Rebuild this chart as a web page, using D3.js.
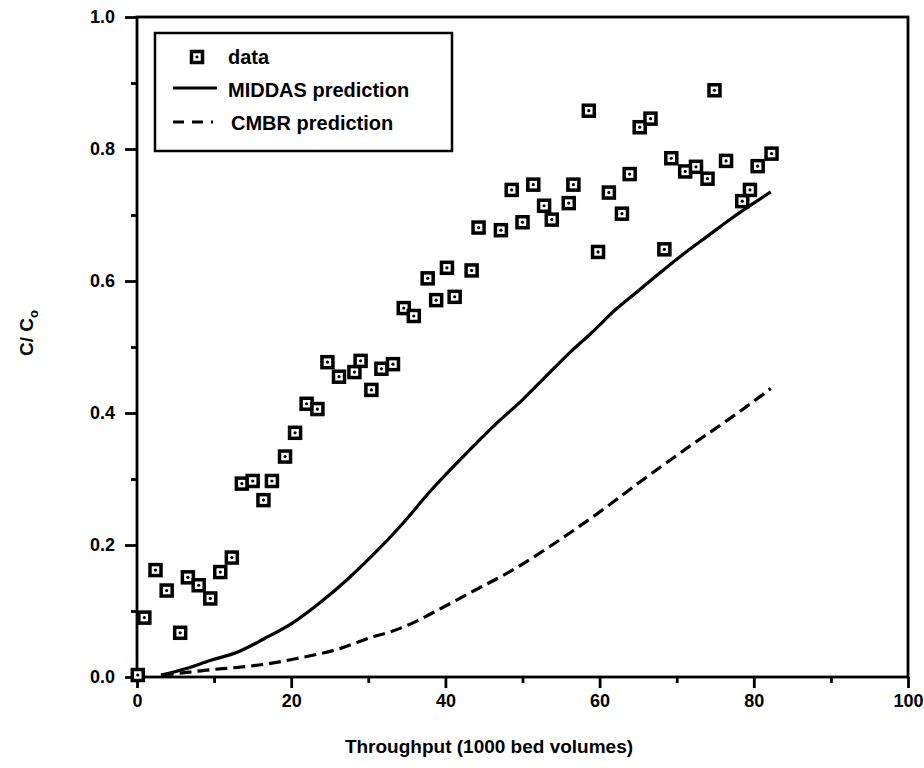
<!DOCTYPE html>
<html>
<head>
<meta charset="utf-8">
<script src="https://cdn.jsdelivr.net/npm/d3@7"></script>
<style>
  body { margin: 0; background: #fff; }
  svg text { font-family: "Liberation Sans", Arial, Helvetica, sans-serif; font-weight: bold; fill: #000; }
</style>
</head>
<body>
<div id="chart"></div>
<script>
// measured data (throughput in 1000 bed volumes, C/Co)
const dataX = [0.1, 0.95, 2.4, 3.85, 5.6, 6.6, 8.0, 9.5, 10.8, 12.3, 13.6, 15.0, 16.4, 17.5, 19.2, 20.5,
  22.0, 23.4, 24.7, 26.2, 28.2, 29.0, 30.4, 31.7, 33.2, 34.6, 35.9, 37.7, 38.8, 40.2, 41.2, 43.4,
  44.3, 47.2, 48.6, 50.0, 51.4, 52.8, 53.8, 56.0, 56.6, 58.6, 59.8, 61.2, 62.9, 63.9, 65.2, 66.6,
  68.4, 69.3, 71.1, 72.5, 74.0, 74.9, 76.4, 78.5, 79.5, 80.5, 82.3];
const dataY = [0.003, 0.090, 0.162, 0.131, 0.067, 0.151, 0.139, 0.119, 0.159, 0.181, 0.293, 0.297, 0.268, 0.297, 0.334, 0.370,
  0.414, 0.406, 0.477, 0.455, 0.462, 0.479, 0.435, 0.467, 0.474, 0.559, 0.547, 0.604, 0.571, 0.620, 0.576, 0.616,
  0.681, 0.677, 0.738, 0.689, 0.746, 0.714, 0.693, 0.718, 0.746, 0.858, 0.644, 0.734, 0.702, 0.762, 0.833, 0.846,
  0.648, 0.786, 0.766, 0.773, 0.755, 0.889, 0.782, 0.721, 0.738, 0.774, 0.793];

// MIDDAS prediction
const middasX = [3.1, 6.4, 9.5, 12.9, 16.5, 20.2, 24.0, 27.2, 30.6, 34.5, 38.0, 42.3, 46.6, 50.0, 53.0, 56.0, 59.0, 62.0, 65.0, 68.0, 71.0, 74.0, 77.0, 80.0, 82.2];
const middasY = [0.003, 0.013, 0.025, 0.037, 0.058, 0.082, 0.115, 0.147, 0.185, 0.233, 0.281, 0.334, 0.384, 0.420, 0.455, 0.490, 0.522, 0.556, 0.585, 0.614, 0.642, 0.668, 0.694, 0.718, 0.735];

// CMBR prediction
const cmbrX = [3.2, 6.5, 9.5, 12.5, 16.4, 20.7, 26.3, 30.6, 33.0, 35.8, 38.8, 43.1, 48.7, 52.8, 56.6, 60.6, 64.7, 68.6, 71.6, 75.1, 78.5, 82.2];
const cmbrY = [0.003, 0.007, 0.011, 0.014, 0.019, 0.028, 0.043, 0.061, 0.069, 0.082, 0.100, 0.127, 0.162, 0.192, 0.222, 0.255, 0.291, 0.324, 0.349, 0.377, 0.405, 0.437];

const xTicks = [0, 20, 40, 60, 80, 100];
const xMinor = [10, 30, 50, 70, 90];
const yTicks = [0, 0.2, 0.4, 0.6, 0.8, 1.0];
const yMinor = [0.1, 0.3, 0.5, 0.7, 0.9];

const width = 924, height = 768;
const svg = d3.select("#chart").append("svg")
  .attr("width", width).attr("height", height);

const x = d3.scaleLinear().domain([0, 100]).range([137, 908]);
const y = d3.scaleLinear().domain([0, 1]).range([677, 17]);

// frame
svg.append("rect")
  .attr("x", x(0)).attr("y", y(1))
  .attr("width", x(100) - x(0)).attr("height", y(0) - y(1))
  .attr("fill", "none").attr("stroke", "#000").attr("stroke-width", 2.8);

// x axis
const gx = svg.append("g").attr("transform", "translate(0," + y(0) + ")");
gx.call(d3.axisBottom(x).tickValues(xTicks).tickSize(11).tickPadding(6).tickFormat(d3.format("d")));
gx.append("g").call(d3.axisBottom(x).tickValues(xMinor).tickSize(6).tickFormat(""));
gx.selectAll(".domain").remove();
gx.selectAll("line").attr("stroke", "#000").attr("stroke-width", 2.8);
gx.selectAll("text").attr("font-size", 18).attr("font-family", null);

// y axis
const gy = svg.append("g").attr("transform", "translate(" + x(0) + ",0)");
gy.call(d3.axisLeft(y).tickValues(yTicks).tickSize(12).tickPadding(10).tickFormat(d3.format(".1f")));
gy.append("g").call(d3.axisLeft(y).tickValues(yMinor).tickSize(6).tickFormat(""));
gy.selectAll(".domain").remove();
gy.selectAll("line").attr("stroke", "#000").attr("stroke-width", 2.8);
gy.selectAll("text").attr("font-size", 18).attr("font-family", null);

// axis titles
svg.append("text")
  .attr("x", 489).attr("y", 753)
  .attr("text-anchor", "middle").attr("font-size", 19)
  .text("Throughput (1000 bed volumes)");

const yl = svg.append("text")
  .attr("transform", "translate(33,333) rotate(-90)")
  .attr("text-anchor", "middle").attr("font-size", 19);
yl.append("tspan").text("C/ C");
yl.append("tspan").attr("font-size", 13).attr("dy", 5).text("o");

// prediction curves
const line = d3.line().x(d => x(d[0])).y(d => y(d[1])).curve(d3.curveMonotoneX);

svg.append("path")
  .datum(middasX.map((v, i) => [v, middasY[i]]))
  .attr("d", line)
  .attr("fill", "none").attr("stroke", "#000").attr("stroke-width", 3.2);

svg.append("path")
  .datum(cmbrX.map((v, i) => [v, cmbrY[i]]))
  .attr("d", line)
  .attr("fill", "none").attr("stroke", "#000").attr("stroke-width", 3.2)
  .attr("stroke-dasharray", "12,6");

// data markers
function marker(g) {
  g.append("rect")
    .attr("x", -5.5).attr("y", -5.5).attr("width", 11).attr("height", 11)
    .attr("fill", "#fff").attr("stroke", "#000").attr("stroke-width", 3.5);
  g.append("circle").attr("r", 1.6).attr("fill", "#000");
}

svg.append("g").selectAll("g")
  .data(dataX.map((v, i) => [v, dataY[i]]))
  .join("g")
  .attr("transform", d => "translate(" + x(d[0]) + "," + y(d[1]) + ")")
  .each(function () { marker(d3.select(this)); });

// legend
const lg = svg.append("g");
lg.append("rect")
  .attr("x", 155).attr("y", 33).attr("width", 297).attr("height", 118)
  .attr("fill", "#fff").attr("stroke", "#000").attr("stroke-width", 2.5);
marker(lg.append("g").attr("transform", "translate(197,57)"));
lg.append("text").attr("x", 228).attr("y", 64).attr("font-size", 20).text("data");
lg.append("line").attr("x1", 173).attr("x2", 217).attr("y1", 88).attr("y2", 88)
  .attr("stroke", "#000").attr("stroke-width", 2.8);
lg.append("text").attr("x", 228).attr("y", 97).attr("font-size", 20).text("MIDDAS prediction");
lg.append("line").attr("x1", 173).attr("x2", 213).attr("y1", 122).attr("y2", 122)
  .attr("stroke", "#000").attr("stroke-width", 2.8).attr("stroke-dasharray", "11,8");
lg.append("text").attr("x", 231).attr("y", 130).attr("font-size", 20).text("CMBR prediction");
</script>
</body>
</html>
